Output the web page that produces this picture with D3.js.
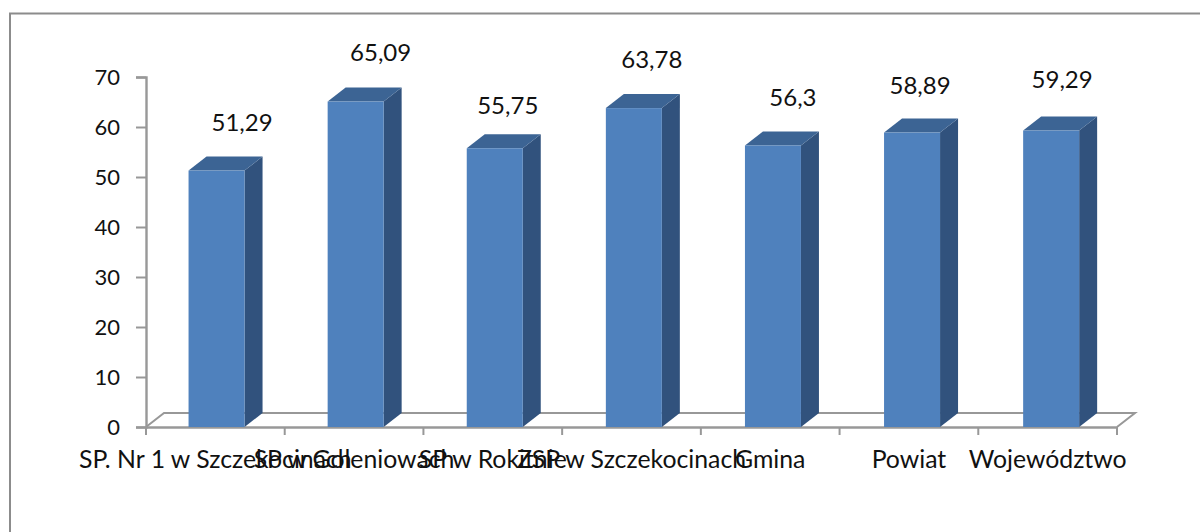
<!DOCTYPE html>
<html><head><meta charset="utf-8">
<script src="https://cdnjs.cloudflare.com/ajax/libs/d3/7.8.5/d3.min.js"></script>
<style>html,body{margin:0;padding:0;background:#fff}svg{display:block}text{font-family:Lato,"Open Sans",sans-serif;fill:#111}.cat{font-size:24.8px}.val{font-size:24px}.axis-y text{font-size:22px}</style>
</head><body><svg id="c" width="1200" height="532"></svg>
<script>
const categories = ["SP. Nr 1 w Szczekocinach","SP w Goleniowach","SP w Rokitnie","ZSP w Szczekocinach","Gmina","Powiat","Województwo"];
const values = [51.29,65.09,55.75,63.78,56.3,58.89,59.29];
const valueLabels = ["51,29","65,09","55,75","63,78","56,3","58,89","59,29"];
const yTicks = [0,10,20,30,40,50,60,70];

const svg = d3.select("#c");
const xAxisScale = d3.scaleBand().domain(categories).range([146,1117]);
const x = d3.scaleBand().domain(categories).range([147,1120.7]);
const y = d3.scaleLinear().domain([0,70]).range([427,77]);
const dx = 18, dy = -14, bw = 56, axisCol = "#989898";
// hand-placed data label nudges in the reference (px from the bar centre / bar top)
const nudgeX = [25.5,25,13,18,20,8,11];
const nudgeY = [-40,-41,-34,-40,-39.5,-39,-43];

svg.append("path").attr("d","M10,532V13.5H1200").attr("fill","none").attr("stroke","#8c8c8c").attr("stroke-width",2);

svg.append("path").attr("fill","none").attr("stroke",axisCol).attr("stroke-width",2)
  .attr("d",`M146,427L${146+dx},${427+dy}H${1117+dx}L1117,427`);

const ya = d3.axisLeft(y).tickValues(yTicks).tickSize(10).tickPadding(16);
const yg = svg.append("g").attr("class","axis-y").attr("transform","translate(146,0)").call(ya);
const xa = d3.axisBottom(xAxisScale).tickValues([]).tickSize(0);
const xg = svg.append("g").attr("transform","translate(0,427)").call(xa);
svg.selectAll(".domain").attr("stroke",axisCol).attr("stroke-width",2.4);
yg.selectAll("line").attr("stroke",axisCol).attr("stroke-width",2);
yg.selectAll("text").attr("fill","#111");
xg.selectAll(".xt").data(d3.range(categories.length+1)).join("line")
  .attr("x1",i=>146+i*xAxisScale.step()).attr("x2",i=>146+i*xAxisScale.step()).attr("y1",0).attr("y2",8)
  .attr("stroke",axisCol).attr("stroke-width",2);

svg.append("g").selectAll("text").data(categories).join("text").attr("class","cat")
  .attr("x",d=>xAxisScale(d)+xAxisScale.bandwidth()/2).attr("y",468).attr("text-anchor","middle").text(d=>d);

const bars = svg.append("g").selectAll("g").data(values).join("g")
  .attr("transform",(d,i)=>`translate(${x(categories[i])+x.bandwidth()/2-bw/2},0)`);
bars.append("path").attr("fill","#31527d")
  .attr("d",d=>`M${bw},${y(d)}l${dx},${dy}V${427+dy}L${bw},427Z`);
bars.append("path").attr("fill","#3c6494")
  .attr("d",d=>`M0,${y(d)}l${dx},${dy}h${bw}l${-dx},${-dy}Z`);
bars.append("rect").attr("fill","#4f81bd").attr("x",0).attr("width",bw)
  .attr("y",d=>y(d)).attr("height",d=>427-y(d));

svg.append("g").selectAll("text").data(values).join("text").attr("class","val")
  .attr("x",(d,i)=>x(categories[i])+x.bandwidth()/2+nudgeX[i]).attr("y",(d,i)=>y(d)+nudgeY[i])
  .attr("text-anchor","middle").text((d,i)=>valueLabels[i]);
</script></body></html>
